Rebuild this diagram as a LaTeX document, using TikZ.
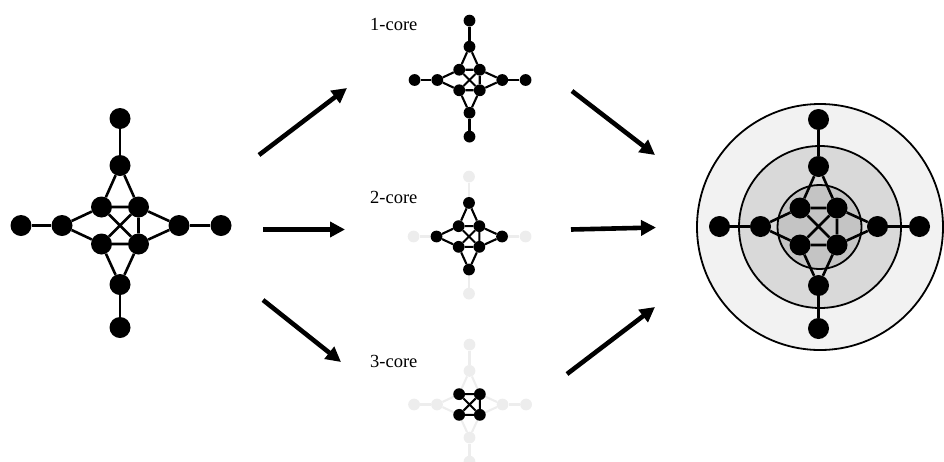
\documentclass[tikz,border=0pt]{standalone}
\usepackage{fontspec}
\setmainfont{Liberation Serif}
\usetikzlibrary{arrows.meta}
\pgfdeclarelayer{back}
\pgfdeclarelayer{edges}
\pgfsetlayers{back,edges,main}
\definecolor{faint}{gray}{0.93}
\definecolor{ringA}{gray}{0.95}
\definecolor{ringB}{gray}{0.85}
\definecolor{ringC}{gray}{0.77}
\tikzset{
  big-node/.style={circle, fill=black, inner sep=0pt, minimum size=21pt},
  big-edge/.style={draw=black, line width=2.6pt},
  sm-node/.style={circle, fill=black, inner sep=0pt, minimum size=11.8pt},
  sm-edge/.style={draw=black, line width=2.1pt},
  fa-node/.style={circle, fill=faint, inner sep=0pt, minimum size=11.8pt},
  fa-edge/.style={draw=faint, line width=2.1pt},
  flow/.style={line width=4.6pt, -{Triangle[length=15pt,width=15pt]}},
  corelabel/.style={font=\fontsize{18.5}{22}\selectfont, anchor=west, inner sep=0pt},
  ring/.style={draw=black, line width=1.8pt}
}
% #1 prefix, #2 cx, #3 cy, #4 scale, #5 core level, #6 mid level, #7 outer level
\newcommand\kgraph[7]{%
  \begin{scope}[shift={(#2,#3)}]
    \node[#5-node] (#1-tl) at (-18.5*#4,-18.5*#4) {};
    \node[#5-node] (#1-tr) at (18.5*#4,-18.5*#4) {};
    \node[#5-node] (#1-bl) at (-18.5*#4,18.5*#4) {};
    \node[#5-node] (#1-br) at (18.5*#4,18.5*#4) {};
    \node[#6-node] (#1-t2) at (0,-60*#4) {};
    \node[#6-node] (#1-b2) at (0,59*#4) {};
    \node[#6-node] (#1-l2) at (-58*#4,0) {};
    \node[#6-node] (#1-r2) at (59*#4,0) {};
    \node[#7-node] (#1-t) at (0,-107*#4) {};
    \node[#7-node] (#1-b) at (0,102*#4) {};
    \node[#7-node] (#1-l) at (-99*#4,0) {};
    \node[#7-node] (#1-r) at (101*#4,0) {};
  \end{scope}
  \begin{pgfonlayer}{edges}
    \path[#7-edge] (#1-t) -- (#1-t2) (#1-b) -- (#1-b2) (#1-l) -- (#1-l2) (#1-r) -- (#1-r2);
    \path[#6-edge] (#1-t2) -- (#1-tl) (#1-t2) -- (#1-tr)
                   (#1-b2) -- (#1-bl) (#1-b2) -- (#1-br)
                   (#1-l2) -- (#1-tl) (#1-l2) -- (#1-bl)
                   (#1-r2) -- (#1-tr) (#1-r2) -- (#1-br);
    \path[#5-edge] (#1-tl) -- (#1-tr) -- (#1-br) -- (#1-bl) -- cycle
                   (#1-tl) -- (#1-br) (#1-tr) -- (#1-bl);
  \end{pgfonlayer}%
}
\begin{document}
\begin{tikzpicture}[x=1pt,y=-1pt]
\useasboundingbox (0,0) rectangle (944,461);
% input graph
\kgraph{g}{120}{225.5}{1}{big}{big}{big}
% cores
\kgraph{c1}{469.5}{80}{0.555}{sm}{sm}{sm}
\kgraph{c2}{469}{236.5}{0.56}{sm}{sm}{fa}
\kgraph{c3}{469.5}{404.5}{0.56}{sm}{fa}{fa}
\node[corelabel] (l1) at (370,24) {1-core};
\node[corelabel] (l2) at (370,197) {2-core};
\node[corelabel] (l3) at (370,361) {3-core};
% decomposition
\begin{pgfonlayer}{back}
  \node[ring, fill=ringA, circle, minimum size=246pt, inner sep=0pt] (rA) at (820,227) {};
  \node[ring, fill=ringB, circle, minimum size=162pt, inner sep=0pt] (rB) at (820,227) {};
  \node[ring, fill=ringC, circle, minimum size=84pt, inner sep=0pt] (rC) at (819.5,227) {};
\end{pgfonlayer}
\kgraph{d}{818.5}{226.5}{1}{big}{big}{big}
% arrows
\coordinate (a1s) at (259,155); \coordinate (a1e) at (347,88);
\coordinate (a2s) at (263,229.5); \coordinate (a2e) at (345,229.5);
\coordinate (a3s) at (263,300); \coordinate (a3e) at (341,362);
\coordinate (a4s) at (572,91); \coordinate (a4e) at (655,155);
\coordinate (a5s) at (571,229.5); \coordinate (a5e) at (656,227.5);
\coordinate (a6s) at (567,374); \coordinate (a6e) at (655,307);
\draw[flow] (a1s) -- (a1e);
\draw[flow] (a2s) -- (a2e);
\draw[flow] (a3s) -- (a3e);
\draw[flow] (a4s) -- (a4e);
\draw[flow] (a5s) -- (a5e);
\draw[flow] (a6s) -- (a6e);
\end{tikzpicture}
\end{document}
